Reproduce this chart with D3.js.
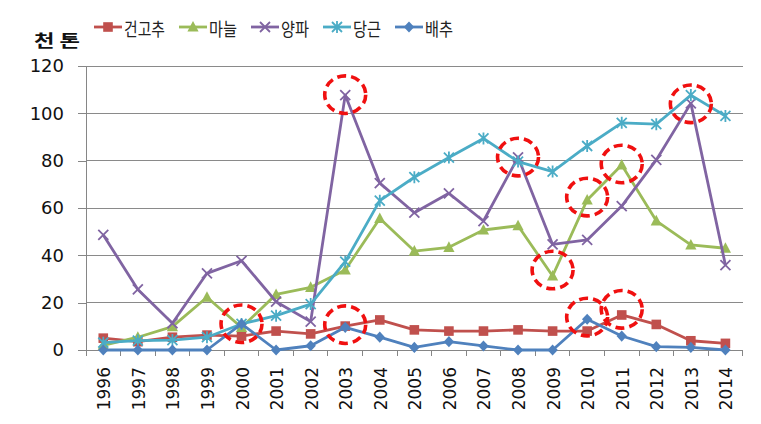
<!DOCTYPE html>
<html>
<head>
<meta charset="utf-8">
<script src="https://cdn.jsdelivr.net/npm/d3@7"></script>
<style>
  html, body { margin: 0; padding: 0; background: #fff; }
  svg { display: block; }
</style>
</head>
<body>
<svg id="chart" width="761" height="424"></svg>
<script>
// ---- data ----
const years = ["1996","1997","1998","1999","2000","2001","2002","2003","2004","2005","2006","2007","2008","2009","2010","2011","2012","2013","2014"];
const seriesNames = ["건고추", "마늘", "양파", "당근", "배추"];
const chili   = [5.0, 3.5, 5.4, 6.3, 5.9, 8.0, 6.8, 10.1, 12.7, 8.5, 8.0, 8.0, 8.5, 8.0, 8.0, 14.8, 10.8, 3.9, 2.8];
const garlic  = [2.0, 5.4, 9.9, 22.3, 9.5, 23.5, 26.5, 33.8, 55.6, 41.8, 43.4, 50.7, 52.5, 31.3, 63.4, 78.2, 54.6, 44.4, 43.0];
const onion   = [48.6, 25.6, 11.3, 32.4, 37.7, 20.4, 12.0, 107.7, 70.5, 58.0, 66.2, 54.5, 81.4, 44.6, 46.5, 60.8, 80.3, 104.2, 35.9];
const carrot  = [3.1, 4.0, 4.2, 5.4, 11.0, 14.5, 19.4, 37.3, 63.1, 73.0, 81.3, 89.4, 79.6, 75.4, 86.2, 96.0, 95.4, 107.7, 98.9];
const cabbage = [0, 0, 0, 0, 11.0, 0, 1.8, 9.6, 5.4, 1.1, 3.5, 1.7, 0, 0, 13.0, 5.9, 1.4, 1.1, 0];
const yTicks  = [0, 20, 40, 60, 80, 100, 120];
const unitLabel = "천 톤";
// highlighted (dashed circle) points
const highlightYears  = ["2000", "2003", "2003", "2008", "2009", "2010", "2010", "2011", "2011", "2013"];
const highlightValues = [11.1, 107.9, 10.7, 81.5, 33.8, 64.6, 13.9, 78.6, 17.2, 104.0];

// ---- styles ----
const colors  = ["#C0504D", "#9BBB59", "#8064A2", "#4BACC6", "#4F81BD"];
const markers = ["square", "triangle", "x", "asterisk", "diamond"];
const values  = [chili, garlic, onion, carrot, cabbage];

const svg = d3.select("#chart");
const margin = { left: 86, right: 18.3, top: 66, bottom: 74 };
const W = 761, H = 424;

const x = d3.scaleBand().domain(years).range([margin.left, W - margin.right]).paddingInner(0).paddingOuter(0);
const y = d3.scaleLinear().domain([0, 120]).range([H - margin.bottom, margin.top]);

// gridlines
svg.append("g")
  .selectAll("line")
  .data(yTicks.filter(d => d > 0))
  .join("line")
  .attr("x1", margin.left).attr("x2", W - margin.right)
  .attr("y1", d => y(d)).attr("y2", d => y(d))
  .attr("stroke", "#8a8a8a").attr("stroke-width", 1).attr("shape-rendering", "crispEdges");

// y axis
const yAxis = svg.append("g")
  .attr("transform", `translate(${margin.left},0)`)
  .call(d3.axisLeft(y).tickValues(yTicks).tickSize(8).tickPadding(14).tickSizeOuter(0));
yAxis.select(".domain").attr("stroke", "#868686").attr("shape-rendering", "crispEdges");
yAxis.selectAll(".tick line").attr("stroke", "#868686").attr("shape-rendering", "crispEdges");
yAxis.selectAll(".tick text")
  .attr("font-family", "DejaVu Sans").attr("font-size", 18).attr("fill", "#111");

// x axis (ticks at category boundaries)
const xg = svg.append("g");
xg.append("line")
  .attr("x1", margin.left).attr("x2", W - margin.right)
  .attr("y1", y(0)).attr("y2", y(0))
  .attr("stroke", "#868686").attr("shape-rendering", "crispEdges");
const boundaries = years.map(d => x(d)).concat([x(years[years.length - 1]) + x.bandwidth()]);
xg.selectAll("line.tk")
  .data(boundaries)
  .join("line").attr("class", "tk")
  .attr("x1", d => d).attr("x2", d => d)
  .attr("y1", y(0)).attr("y2", y(0) + 6)
  .attr("stroke", "#868686").attr("shape-rendering", "crispEdges");
xg.selectAll("text")
  .data(years)
  .join("text")
  .attr("transform", d => `translate(${x(d) + x.bandwidth() / 2 + 1},${y(0) + 17}) rotate(-90)`)
  .attr("text-anchor", "end")
  .attr("dominant-baseline", "central")
  .attr("font-family", "DejaVu Sans").attr("font-size", 17).attr("fill", "#111")
  .text(d => d);

// unit label
svg.append("text")
  .attr("x", 34).attr("y", 47)
  .attr("font-family", "Noto Sans CJK KR").attr("font-weight", "bold")
  .attr("font-size", 17).attr("fill", "#111")
  .attr("textLength", 46).attr("lengthAdjust", "spacingAndGlyphs")
  .text(unitLabel);

// marker drawer
function drawMarker(g, type, color) {
  const s = 5;
  if (type === "square") {
    g.append("rect").attr("x", -4.8).attr("y", -4.8).attr("width", 9.6).attr("height", 9.6).attr("fill", color);
  } else if (type === "triangle") {
    g.append("path").attr("d", "M0,-6 L5.6,4.6 L-5.6,4.6 Z").attr("fill", color);
  } else if (type === "diamond") {
    g.append("path").attr("d", "M0,-5.6 L5.2,0 L0,5.6 L-5.2,0 Z").attr("fill", color);
  } else if (type === "x") {
    g.append("path").attr("d", `M${-s},${-s} L${s},${s} M${-s},${s} L${s},${-s}`)
      .attr("stroke", color).attr("stroke-width", 1.8).attr("fill", "none");
  } else if (type === "asterisk") {
    g.append("path").attr("d", `M${-s},${-s} L${s},${s} M${-s},${s} L${s},${-s} M0,${-s - 1} L0,${s + 1}`)
      .attr("stroke", color).attr("stroke-width", 1.8).attr("fill", "none");
  }
}

// series
const line = d3.line().x((d, i) => x(years[i]) + x.bandwidth() / 2).y(d => y(d));
seriesNames.forEach((name, k) => {
  const g = svg.append("g");
  g.append("path")
    .datum(values[k])
    .attr("d", line)
    .attr("fill", "none")
    .attr("stroke", colors[k])
    .attr("stroke-width", 2.8)
    .attr("stroke-linejoin", "round");
  values[k].forEach((v, i) => {
    const m = g.append("g").attr("transform", `translate(${x(years[i]) + x.bandwidth() / 2},${y(v)})`);
    drawMarker(m, markers[k], colors[k]);
  });
});

// dashed highlight circles
svg.append("g")
  .selectAll("ellipse")
  .data(highlightYears.map((yr, i) => ({ yr, v: highlightValues[i] })))
  .join("ellipse")
  .attr("cx", d => x(d.yr) + x.bandwidth() / 2)
  .attr("cy", d => y(d.v))
  .attr("rx", 20.5).attr("ry", 18.8)
  .attr("fill", "none")
  .attr("stroke", "#F01010")
  .attr("stroke-width", 3.6)
  .attr("stroke-dasharray", "9,5");

// legend
const legend = svg.append("g").attr("transform", "translate(94,27)");
let lx = 0;
seriesNames.forEach((name, k) => {
  const g = legend.append("g").attr("transform", `translate(${lx},0)`);
  g.append("line").attr("x1", 0).attr("x2", 28).attr("y1", 0).attr("y2", 0)
    .attr("stroke", colors[k]).attr("stroke-width", 2.8);
  drawMarker(g.append("g").attr("transform", "translate(14,0)"), markers[k], colors[k]);
  const tw = name.length === 3 ? 41 : 28;
  g.append("text")
    .attr("x", 30).attr("y", 1)
    .attr("dominant-baseline", "central")
    .attr("font-family", "Noto Sans CJK KR").attr("font-size", 18).attr("fill", "#222")
    .attr("textLength", tw).attr("lengthAdjust", "spacingAndGlyphs")
    .text(name);
  lx += 30 + tw + 14;
});
</script>
</body>
</html>
